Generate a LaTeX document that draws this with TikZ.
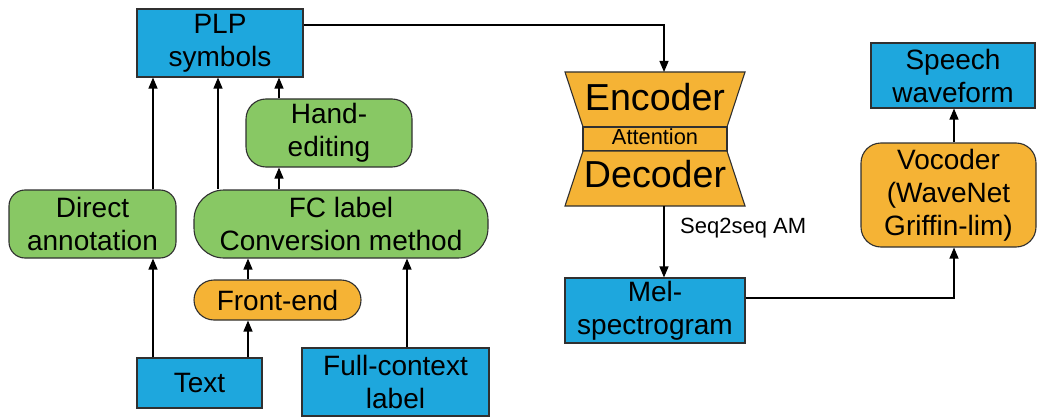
\documentclass[tikz,border=0pt]{standalone}
\usepackage{fontspec}
\setmainfont{Liberation Sans}
\usetikzlibrary{arrows.meta,calc}
\definecolor{boxblue}{HTML}{1EA7DD}
\definecolor{boxorange}{HTML}{F5B335}
\definecolor{boxgreen}{HTML}{88C864}
\definecolor{edge}{HTML}{303030}
\begin{document}
\begin{tikzpicture}[x=1pt,y=-1pt,
  base/.style={draw=edge,line width=1.1pt,align=center,inner sep=0pt,
    font=\fontsize{28}{33}\selectfont},
  bluebox/.style={base,fill=boxblue},
  greenbox/.style={base,fill=boxgreen},
  orangebox/.style={base,fill=boxorange},
  arr/.style={draw=black,line width=1.2pt,-{Triangle[length=11pt,width=9pt]}},
  plain/.style={draw=black,line width=1.2pt}]
\useasboundingbox (0,0) rectangle (1038,417);

% left-hand column: sources and conversions
\node[bluebox,minimum width=166pt,minimum height=68pt] (plp) at (220,43) {PLP\\symbols};
\node[greenbox,rounded corners=16pt,minimum width=167pt,minimum height=68pt] (dir) at (92.5,224) {Direct\\annotation};
\node[greenbox,rounded corners=30pt,minimum width=294pt,minimum height=68pt] (fc) at (341,224) {FC label\\Conversion method};
\node[greenbox,rounded corners=20pt,minimum width=166pt,minimum height=68pt] (hand) at (329,133) {Hand-\\editing};
\node[orangebox,rounded corners=20pt,minimum width=167pt,minimum height=40pt] (fe) at (277.5,300) {Front-end};
\node[bluebox,minimum width=125pt,minimum height=50pt] (txt) at (199.5,383) {Text};
\node[bluebox,minimum width=187pt,minimum height=68pt] (fcl) at (395.5,382) {Full-context\\label};

% encoder / attention / decoder block
\filldraw[fill=boxorange,draw=edge,line width=1.1pt] (565,72) -- (745,72) -- (727,127) -- (583,127) -- cycle;
\filldraw[fill=boxorange,draw=edge,line width=1.1pt] (583,127) rectangle (727,151);
\filldraw[fill=boxorange,draw=edge,line width=1.1pt] (583,151) -- (727,151) -- (745,206) -- (565,206) -- cycle;
\node[inner sep=0pt,font=\fontsize{37.6}{40}\selectfont] (enc) at (655,97) {Encoder};
\node[inner sep=0pt,font=\fontsize{21.8}{24}\selectfont] (att) at (655,137) {Attention};
\node[inner sep=0pt,font=\fontsize{37.6}{40}\selectfont] (dec) at (655,174) {Decoder};
\coordinate (enctop) at (664,72);
\coordinate (decbot) at (664,206);

% right-hand part
\node[bluebox,minimum width=180pt,minimum height=65pt] (mel) at (655,310.5) {Mel-\\spectrogram};
\node[orangebox,rounded corners=20pt,minimum width=175pt,minimum height=104pt] (voc) at (948.5,195) {Vocoder\\(WaveNet\\Griffin-lim)};
\node[bluebox,minimum width=164pt,minimum height=65pt] (sw) at (953,75.5) {Speech\\waveform};
\node[inner sep=0pt,font=\fontsize{22}{24}\selectfont,anchor=west] (s2s) at (680,228) {Seq2seq AM};

% connector columns
\coordinate (colA) at (153,0);
\coordinate (colB) at (218,0);
\coordinate (colC) at (279,0);
\coordinate (colD) at (248,0);
\coordinate (colE) at (407,0);
\coordinate (colG) at (954,0);

\draw[arr] (dir.north -| colA) -- (plp.south -| colA);
\draw[arr] (fc.north -| colB) -- (plp.south -| colB);
\draw[arr] (hand.north -| colC) -- (plp.south -| colC);
\draw[arr] (fc.north -| colC) -- (hand.south -| colC);
\draw[arr] (txt.north -| colA) -- (dir.south -| colA);
\draw[arr] (txt.north -| colD) -- (fe.south -| colD);
\draw[arr] (fe.north -| colD) -- (fc.south -| colD);
\draw[arr] (fcl.north -| colE) -- (fc.south -| colE);

\draw[arr] ([yshift=18pt]plp.east) -| (enctop);
\draw[arr] (decbot) -- (mel.north -| decbot);
\draw[arr] ([yshift=12.5pt]mel.east) -| (voc.south -| colG);
\draw[arr] (voc.north -| colG) -- (sw.south -| colG);
\end{tikzpicture}
\end{document}
